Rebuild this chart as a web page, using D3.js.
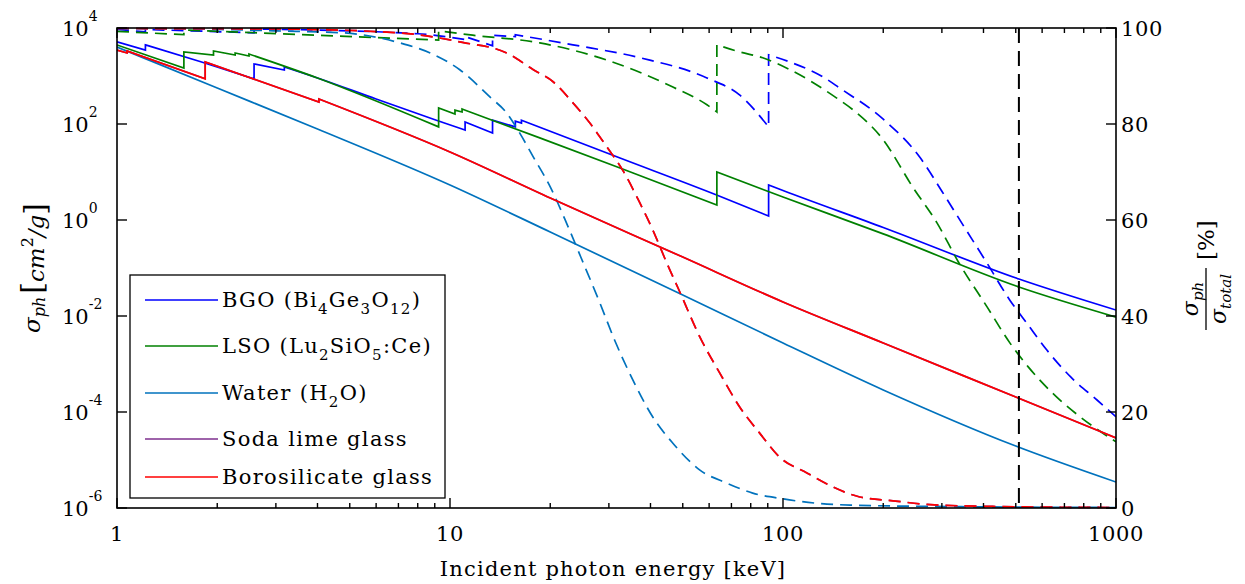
<!DOCTYPE html>
<meta charset="utf-8">
<style>
body { margin: 0; background: #fff; }
text { font-family: "DejaVu Serif", serif; fill: #000; }
.frame { fill: none; stroke: #000; stroke-width: 1.6px; }
.tk { stroke: #000; stroke-width: 1.4px; }
.solid { fill: none; stroke-width: 1.7px; }
.dash { fill: none; stroke-width: 1.7px; stroke-dasharray: 12,7; }
</style>
<svg width="1245" height="584" id="chart"></svg>
<script src="https://d3js.org/d3.v7.min.js"></script>
<script>
// photon energy in keV; an energy written twice is an absorption edge (value jumps there)

// photoelectric cross section, cm^2/g (left axis)
var bgoE     = [1, 1.217, 1.217, 1.775, 2.58, 2.58, 3.18, 3.18, 4, 6, 9.1, 11.1, 11.1, 13.42, 13.42, 15.71, 15.71, 16.39, 16.39, 32.4, 63.2, 90.53, 90.53, 100, 200, 511, 1000];
var bgoSigma = [5130, 3470, 4470, 2000, 871, 1780, 1330, 1540, 910, 331, 120, 75, 110, 65, 120, 87, 115, 105, 120, 19.5, 3.31, 1.21, 5.37, 4.12, 0.70, 0.0589, 0.0133];

var lsoE     = [1, 1.588, 1.588, 1.949, 1.949, 2.264, 2.264, 2.491, 2.491, 4, 9.244, 9.244, 10.35, 10.35, 10.87, 10.87, 18.6, 32.4, 63.3, 63.3, 100, 200, 511, 1000];
var lsoSigma = [4430, 1470, 3160, 2740, 3320, 2740, 3015, 2610, 2870, 909, 87, 215, 162, 195, 178, 205, 51.5, 12.1, 2.05, 10, 3.02, 0.513, 0.0402, 0.0095];

var waterE     = [1, 2, 4, 10, 20, 50, 100, 200, 500, 1000];
var waterSigma = [4018, 562, 78.7, 5.36, 0.562, 0.0274, 0.00274, 2.88e-4, 1.95e-5, 3.47e-6];

var boroE     = [1, 1.072, 1.072, 1.84, 1.84, 4.04, 4.04, 10, 20, 50, 100, 200, 500, 1000];
var boroSigma = [3470, 3020, 3310, 870, 1960, 288, 331, 26.1, 2.87, 0.169, 0.0196, 0.00274, 2.05e-4, 2.88e-5];

// soda lime glass lies under the borosilicate curves in the picture
var sodaE     = boroE;
var sodaSigma = boroSigma;

// photoelectric share of the total cross section, % (right axis)
var bgoFracE = [1, 1.217, 1.217, 2.58, 2.58, 8, 11.1, 11.1, 13.42, 13.42, 15.71, 15.71, 23.4, 37.2, 59.1, 74.2, 90.53, 90.53, 105, 132, 148, 200, 258, 300, 344, 410, 480, 540, 620, 731, 877, 1000];
var bgoFrac  = [99.7, 99.2, 99.7, 99.0, 99.8, 98.8, 97.6, 98.2, 96.3, 98.5, 98.2, 98.6, 96.5, 93.8, 89.6, 86, 79.4, 94.4, 92.9, 89.8, 87.5, 81, 73, 66, 59.4, 51, 43.3, 38.5, 32.9, 27.3, 22.5, 19];

var lsoFracE = [1, 1.588, 1.588, 9.244, 9.244, 11.7, 18.6, 29.6, 46.7, 59.1, 63.3, 63.3, 74.2, 86.9, 105, 145, 162.6, 200, 245, 290, 338, 410, 480, 545, 664, 780, 1000];
var lsoFrac  = [99.3, 98.6, 99.6, 97.5, 99.4, 98.5, 96.9, 93.3, 87.7, 84, 82.5, 96.5, 95, 93.8, 91.3, 85.4, 82.9, 76.7, 66.9, 59.4, 51, 41.9, 34.4, 29.4, 23.1, 19, 13.8];

var waterFracE = [1, 2, 3, 4.77, 7.07, 8.72, 10.7, 13.2, 14.8, 16.2, 17.8, 20, 22.5, 24.7, 28.2, 31.2, 35.4, 40.6, 46.7, 56.3, 67.7, 81.1, 100, 126, 159, 316, 1000];
var waterFrac  = [99.9, 99.7, 99.4, 99, 96.9, 94.8, 91.3, 85.6, 82.3, 78.1, 73.1, 66.9, 59, 52.3, 42.7, 35, 26.7, 19, 13.5, 7.9, 5.2, 3.1, 1.9, 1.0, 0.6, 0.3, 0.1];

var boroFracE = [1, 3, 7, 10.9, 14.8, 17.8, 20.4, 23.4, 26.3, 29.6, 33, 37.2, 40.6, 44.8, 49, 56.3, 64.6, 74.2, 85.1, 97.7, 118, 141, 170, 214, 277, 446, 1000];
var boroFrac  = [99.9, 99.8, 99, 97, 94.8, 91.3, 88.8, 84.4, 80.2, 75.2, 70.4, 63.5, 58, 51, 45, 35.6, 28.1, 21, 15.6, 10.6, 7.3, 4.4, 2.3, 1.5, 0.7, 0.3, 0.1];

var sodaFracE = boroFracE;
var sodaFrac  = boroFrac;

var names  = ["BGO", "LSO", "Water", "Soda lime glass", "Borosilicate glass"];
var colors = ["#0000ff", "#008000", "#0072bd", "#7e2f8e", "#ff0000"];

var xTicks = [1, 10, 100, 1000];
var yLeftExp = [4, 2, 0, -2, -4, -6];
var yRightTicks = [0, 20, 40, 60, 80, 100];
var annihilation = 511;

var pL = 117, pR = 1116, pT = 28, pB = 508;

var x  = d3.scaleLog().domain([1, 1000]).range([pL, pR]);
var yL = d3.scaleLog().domain([1e-6, 1e4]).range([pB, pT]);
var yR = d3.scaleLinear().domain([0, 100]).range([pB, pT]);

var svg = d3.select("#chart");

svg.append("clipPath").attr("id", "plotclip")
  .append("rect").attr("x", pL).attr("y", pT - 1)
  .attr("width", pR - pL).attr("height", pB - pT + 2);

var line = d3.line().curve(d3.curveMonotoneX);

// one path per series, jumps at the repeated energies
function seriesPath(E, V, yScale) {
  var segs = [[]];
  E.forEach(function(e, i) {
    if (i > 0 && e === E[i - 1]) segs.push([]);
    segs[segs.length - 1].push([x(e), yScale(V[i])]);
  });
  return segs.map(function(s, k) {
    var d = line(s).replace(/Z$/, "");
    return k ? "L" + d.slice(1) : d;
  }).join("");
}

var series = [
  [bgoE, bgoSigma, bgoFracE, bgoFrac],
  [lsoE, lsoSigma, lsoFracE, lsoFrac],
  [waterE, waterSigma, waterFracE, waterFrac],
  [sodaE, sodaSigma, sodaFracE, sodaFrac],
  [boroE, boroSigma, boroFracE, boroFrac]
];

var plot = svg.append("g").attr("clip-path", "url(#plotclip)");

series.forEach(function(s, i) {
  plot.append("path").attr("class", "solid")
    .attr("stroke", colors[i])
    .attr("d", seriesPath(s[0], s[1], yL));
  plot.append("path").attr("class", "dash")
    .attr("stroke", colors[i])
    .attr("d", seriesPath(s[2], s[3], yR));
});

// 511 keV marker
plot.append("line")
  .attr("x1", x(annihilation)).attr("x2", x(annihilation))
  .attr("y1", pT).attr("y2", pB)
  .attr("stroke", "#000").attr("stroke-width", 2)
  .attr("stroke-dasharray", "15,8");

// frame
svg.append("rect").attr("class", "frame")
  .attr("x", pL).attr("y", pT)
  .attr("width", pR - pL).attr("height", pB - pT);

// x ticks, top and bottom, majors and minors
var ticks = svg.append("g");
var xMinor = [];
for (var dec = 1; dec < 1000; dec *= 10) {
  for (var m = 2; m <= 9; m++) xMinor.push(dec * m);
}
xTicks.forEach(function(t) {
  ticks.append("line").attr("class", "tk")
    .attr("x1", x(t)).attr("x2", x(t)).attr("y1", pB).attr("y2", pB - 10);
  ticks.append("line").attr("class", "tk")
    .attr("x1", x(t)).attr("x2", x(t)).attr("y1", pT).attr("y2", pT + 10);
});
xMinor.forEach(function(t) {
  ticks.append("line").attr("class", "tk")
    .attr("x1", x(t)).attr("x2", x(t)).attr("y1", pB).attr("y2", pB - 5);
  ticks.append("line").attr("class", "tk")
    .attr("x1", x(t)).attr("x2", x(t)).attr("y1", pT).attr("y2", pT + 5);
});
yLeftExp.forEach(function(p) {
  var yy = yL(Math.pow(10, p));
  ticks.append("line").attr("class", "tk")
    .attr("x1", pL).attr("x2", pL + 10).attr("y1", yy).attr("y2", yy);
});
yRightTicks.forEach(function(v) {
  ticks.append("line").attr("class", "tk")
    .attr("x1", pR).attr("x2", pR - 10).attr("y1", yR(v)).attr("y2", yR(v));
});

// tick labels
svg.selectAll(".xlab").data(xTicks).enter().append("text")
  .attr("x", function(d) { return x(d); })
  .attr("y", 541)
  .attr("text-anchor", "middle")
  .attr("font-size", 21)
  .attr("letter-spacing", 0.6)
  .text(function(d) { return d; });

var yl = svg.selectAll(".ylab").data(yLeftExp).enter().append("text")
  .attr("x", 62)
  .attr("y", function(d) { return yL(Math.pow(10, d)) + 7.5; })
  .attr("font-size", 21);
yl.append("tspan").text("10");
yl.append("tspan").attr("font-size", 14).attr("dy", -15)
  .text(function(d) { return d < 0 ? "-" + (-d) : d; });

svg.selectAll(".rlab").data(yRightTicks).enter().append("text")
  .attr("x", 1121)
  .attr("y", function(d) { return yR(d) + 7.5; })
  .attr("font-size", 21)
  .attr("letter-spacing", 0.6)
  .text(function(d) { return d; });

// axis titles
svg.append("text")
  .attr("x", 613).attr("y", 576)
  .attr("text-anchor", "middle")
  .attr("font-size", 21)
  .attr("letter-spacing", 1.2)
  .text("Incident photon energy [keV]");

var ylab = svg.append("text")
  .attr("transform", "translate(40,268) rotate(-90)")
  .attr("text-anchor", "middle")
  .attr("font-size", 23);
ylab.append("tspan").attr("font-style", "italic").text("σ");
ylab.append("tspan").attr("font-style", "italic").attr("font-size", 16).attr("dy", 5).text("ph");
ylab.append("tspan").attr("font-size", 30).attr("dy", -3).attr("dx", 3).text("[");
ylab.append("tspan").attr("font-style", "italic").attr("dy", 2).text("cm");
ylab.append("tspan").attr("font-size", 16).attr("dy", -11).text("2");
ylab.append("tspan").attr("font-style", "italic").attr("dy", 11).text("/g");
ylab.append("tspan").attr("font-size", 30).attr("dy", 1).text("]");

var rlab = svg.append("g").attr("transform", "translate(1206,264) rotate(-90)");
var num = rlab.append("text").attr("x", -35).attr("y", -8)
  .attr("text-anchor", "middle").attr("font-size", 22);
num.append("tspan").attr("font-style", "italic").text("σ");
num.append("tspan").attr("font-style", "italic").attr("font-size", 15).attr("dy", 5).text("ph");
rlab.append("line").attr("x1", -66).attr("x2", -4).attr("y1", 0).attr("y2", 0)
  .attr("stroke", "#000").attr("stroke-width", 1.3);
var den = rlab.append("text").attr("x", -35).attr("y", 20)
  .attr("text-anchor", "middle").attr("font-size", 22);
den.append("tspan").attr("font-style", "italic").text("σ");
den.append("tspan").attr("font-style", "italic").attr("font-size", 15).attr("dy", 5).text("total");
rlab.append("text").attr("x", 4).attr("y", 8).attr("font-size", 23).text("[%]");

// legend
var lg = svg.append("g");
lg.append("rect").attr("x", 130).attr("y", 275).attr("width", 315).attr("height", 223)
  .attr("fill", "#fff").attr("stroke", "#000").attr("stroke-width", 1.3);
var legendY = [300, 346, 393, 439, 477];
var legendParts = [
  [["BGO (Bi", 0], ["4", 1], ["Ge", 0], ["3", 1], ["O", 0], ["12", 1], [")", 0]],
  [["LSO (Lu", 0], ["2", 1], ["SiO", 0], ["5", 1], [":Ce)", 0]],
  [["Water (H", 0], ["2", 1], ["O)", 0]],
  [["Soda lime glass", 0]],
  [["Borosilicate glass", 0]]
];
legendParts.forEach(function(parts, i) {
  lg.append("line").attr("x1", 145).attr("x2", 218)
    .attr("y1", legendY[i]).attr("y2", legendY[i])
    .attr("stroke", colors[i]).attr("stroke-width", 1.7);
  var t = lg.append("text").attr("x", 222).attr("y", legendY[i] + 7)
    .attr("font-size", 21).attr("letter-spacing", 1.3);
  var low = 0;
  parts.forEach(function(p) {
    var shift = p[1] ? 7 : 0;
    t.append("tspan").attr("dy", shift - low)
      .attr("font-size", p[1] ? 15 : 21).text(p[0]);
    low = shift;
  });
});
</script>
